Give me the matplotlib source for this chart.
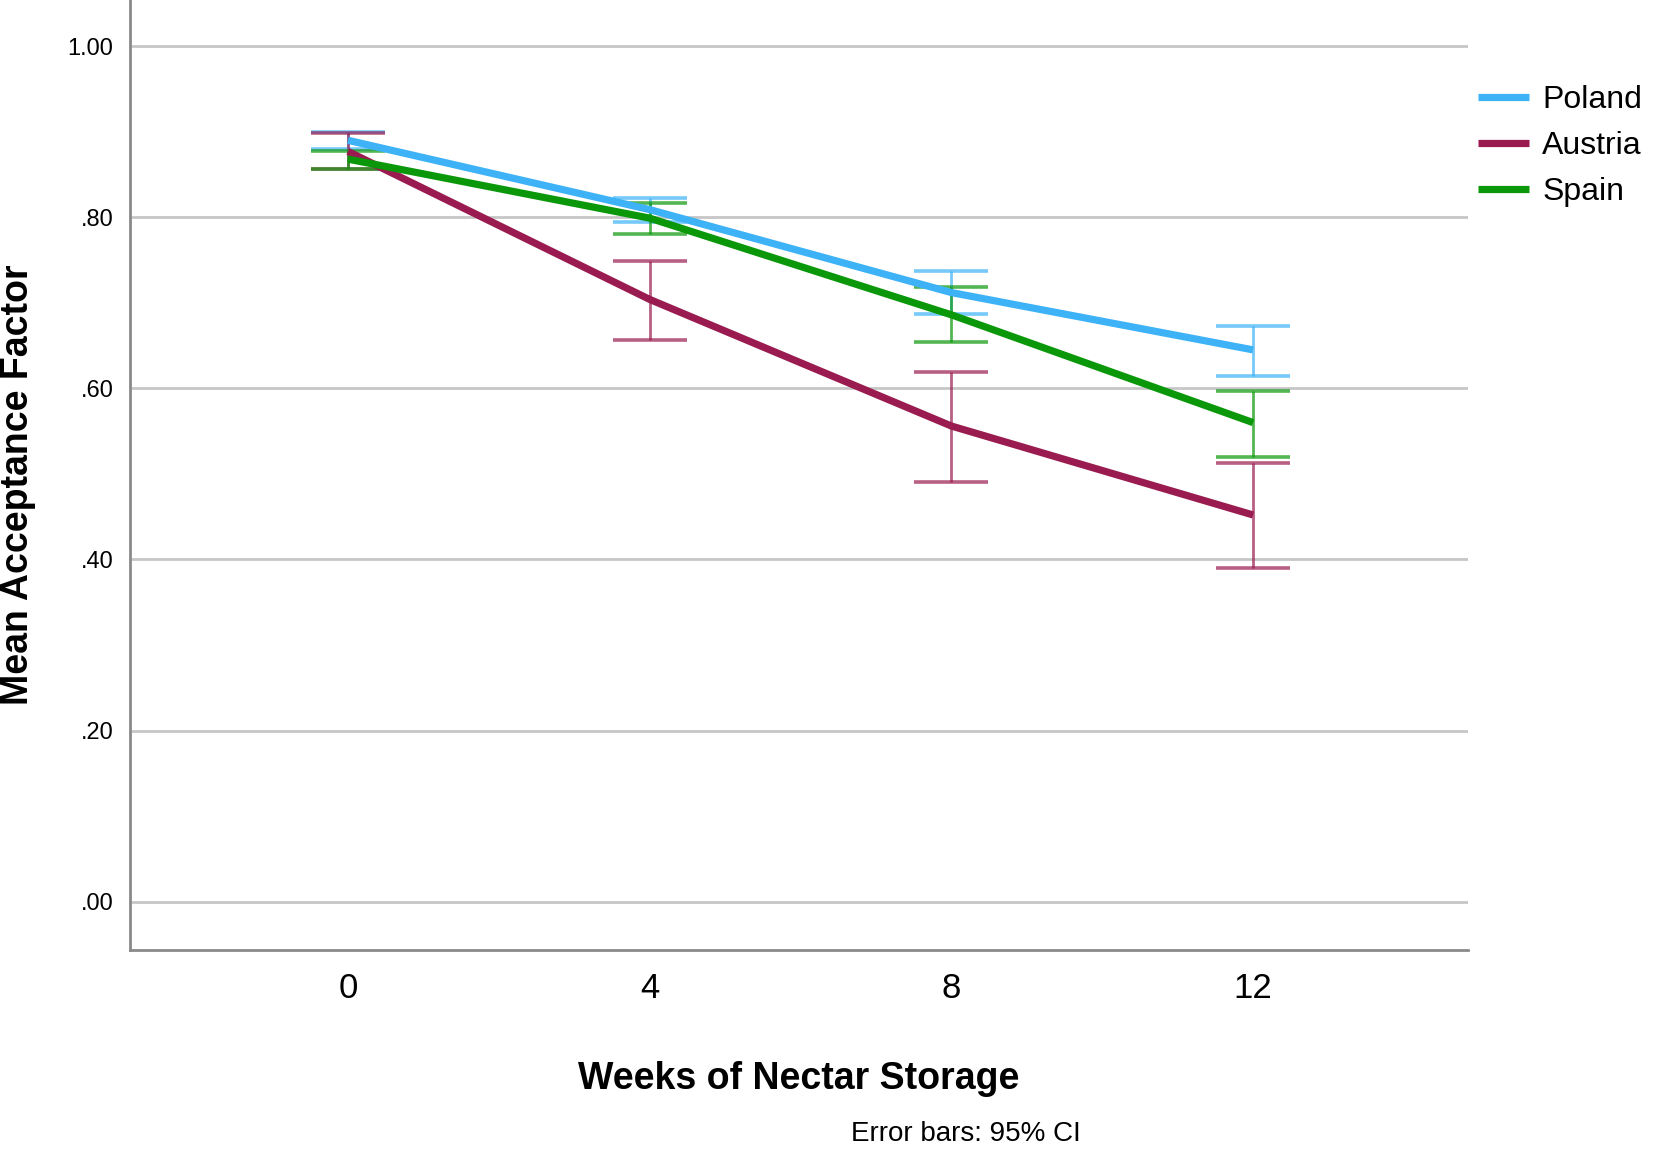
import matplotlib
matplotlib.use('Agg')
import matplotlib.pyplot as plt
from matplotlib import font_manager

# Data
weeks = [0, 4, 8, 12]
countries = ['Poland', 'Austria', 'Spain']

poland_mean = [0.890, 0.809, 0.712, 0.645]
poland_low = [0.880, 0.795, 0.687, 0.615]
poland_high = [0.900, 0.823, 0.737, 0.673]

austria_mean = [0.877, 0.704, 0.556, 0.452]
austria_low = [0.857, 0.657, 0.490, 0.390]
austria_high = [0.899, 0.749, 0.619, 0.513]

spain_mean = [0.868, 0.799, 0.686, 0.560]
spain_low = [0.857, 0.780, 0.654, 0.520]
spain_high = [0.878, 0.817, 0.719, 0.597]

y_ticks = [0.0, 0.2, 0.4, 0.6, 0.8, 1.0]
y_tick_labels = ['.00', '.20', '.40', '.60', '.80', '1.00']

colors = {'Poland': '#3db2f7', 'Austria': '#9a1b50', 'Spain': '#0a980a'}

names = {f.name for f in font_manager.fontManager.ttflist}
narrow = 'Liberation Sans Narrow' if 'Liberation Sans Narrow' in names else 'Liberation Sans'
plt.rcParams['font.family'] = [narrow, 'DejaVu Sans']

fig = plt.figure(figsize=(16.56, 11.49), dpi=100)
ax = fig.add_axes([0.0785, 0.1732, 0.808, 0.8268])

series = {
    'Poland': (poland_mean, poland_low, poland_high),
    'Austria': (austria_mean, austria_low, austria_high),
    'Spain': (spain_mean, spain_low, spain_high),
}

# Error bars first, then mean lines on top
for name in countries:
    mean, low, high = series[name]
    left = [w - 0.49 for w in weeks]
    right = [w + 0.49 for w in weeks]
    ax.vlines(weeks, low, high, color=colors[name], alpha=0.7, linewidth=2.0, zorder=3)
    ax.hlines(low, left, right, color=colors[name], alpha=0.7, linewidth=2.6, zorder=3)
    ax.hlines(high, left, right, color=colors[name], alpha=0.7, linewidth=2.6, zorder=3)

for name in countries:
    mean = series[name][0]
    ax.plot(weeks, mean, color=colors[name], linewidth=5.2, label=name,
            solid_capstyle='butt', zorder=4)

ax.set_xlim(-2.89, 14.85)
ax.set_ylim(-0.0565, 1.054)

ax.set_yticks(y_ticks)
ax.set_yticklabels(y_tick_labels, fontsize=17)
ax.set_xticks(weeks)
ax.set_xticklabels([str(w) for w in weeks], fontsize=25)
ax.tick_params(axis='y', length=0, pad=12)
ax.tick_params(axis='x', length=0, pad=16)

ax.grid(axis='y', color='#c6c6c6', linewidth=2, zorder=1)
ax.set_axisbelow(True)

for side in ['top', 'right']:
    ax.spines[side].set_visible(False)
for side in ['left', 'bottom']:
    ax.spines[side].set_color('#8a8a8a')
    ax.spines[side].set_linewidth(2)

ax.set_xlabel('Weeks of Nectar Storage', fontsize=27, fontweight='bold', labelpad=40)
ax.set_ylabel('Mean Acceptance Factor', fontsize=27, fontweight='bold')
ax.yaxis.set_label_coords(-0.07, 0.49)

ax.legend(loc='upper left', bbox_to_anchor=(0.998, 0.924), frameon=False,
          fontsize=23, handlelength=1.6, handletextpad=0.4, labelspacing=0.5,
          borderaxespad=0)

fig.text(0.583, 0.002, 'Error bars: 95% CI', fontsize=20, ha='center', va='bottom')

plt.savefig('out.png', dpi=100)
plt.close()
